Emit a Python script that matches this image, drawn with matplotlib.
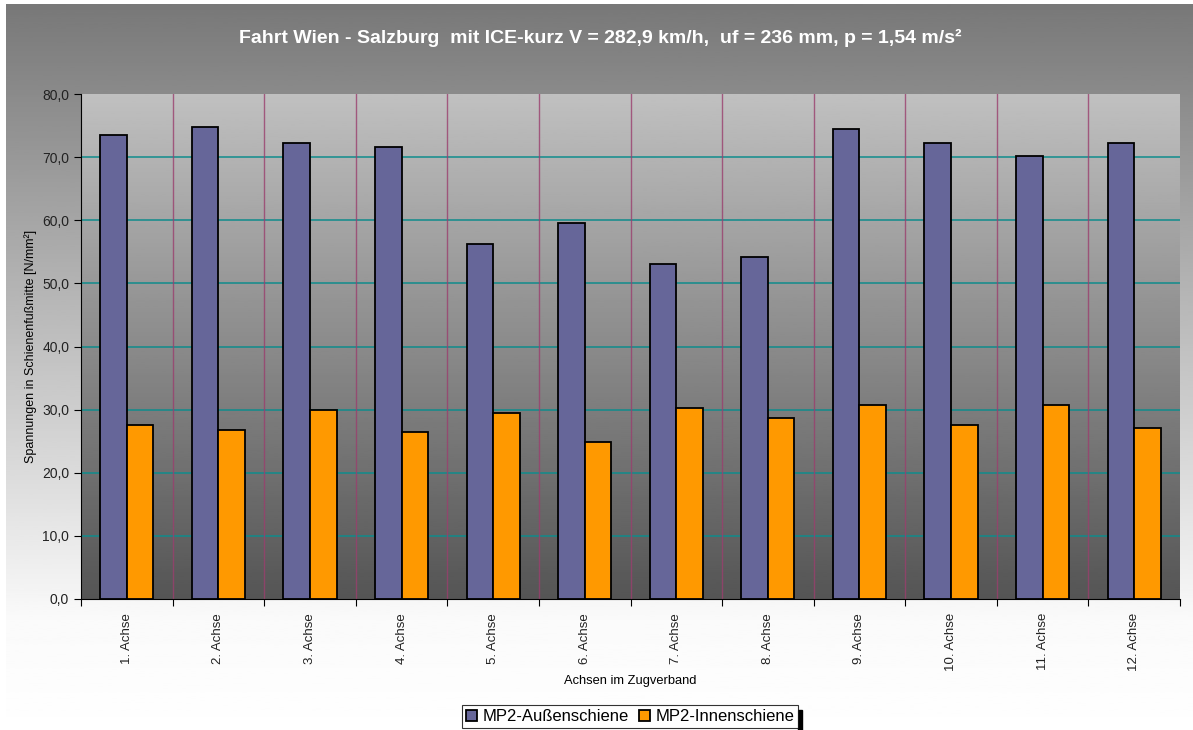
import numpy as np
import matplotlib
matplotlib.use("Agg")
import matplotlib.pyplot as plt
from matplotlib.patches import Rectangle

plt.rcParams['font.family'] = ['Liberation Sans', 'DejaVu Sans']

categories = [f"{i}. Achse" for i in range(1, 13)]
aussen = [73.5, 74.8, 72.2, 71.6, 56.3, 59.5, 53.0, 54.1, 74.4, 72.2, 70.1, 72.2]
innen = [27.5, 26.7, 30.0, 26.5, 29.5, 24.9, 30.3, 28.7, 30.8, 27.6, 30.8, 27.1]
series_names = ["MP2-Außenschiene", "MP2-Innenschiene"]
title = "Fahrt Wien - Salzburg  mit ICE-kurz V = 282,9 km/h,  uf = 236 mm, p = 1,54 m/s²"

W, H = 1193, 730
fig = plt.figure(figsize=(W / 100, H / 100), dpi=100)
fig.patch.set_facecolor("white")

# chart-area background: grey at top fading to white
bg = fig.add_axes([6 / W, 0, 1 - 6 / W, 1 - 4 / H], zorder=-2)
rows = np.linspace(0, 1, 300)
ramp = np.clip(120 + (250 - 120) * rows / (616 / 726), 0, 255)
ramp = np.where(rows > 616 / 726, np.clip(250 + (rows - 616 / 726) * 30, 0, 255), ramp) / 255
bg.imshow(ramp[:, None], cmap="gray", vmin=0, vmax=1, aspect="auto", extent=[0, 1, 1, 0])
bg.set_axis_off()

ax = fig.add_axes([81 / W, 1 - 599 / H, 1099 / W, 505 / H])
ax.set_facecolor("none")
x = np.arange(len(categories))

# plot area gradient (light top, dark bottom)
grad = np.linspace(0xc0, 0x55, 256)[:, None] / 255
ax.imshow(grad, cmap="gray", vmin=0, vmax=1, aspect="auto",
          extent=[-0.5, len(categories) - 0.5, 0, 80], zorder=0)

for v in range(10, 80, 10):
    ax.axhline(v, color="#0f8c8c", lw=1.1, zorder=1)
for b in np.arange(0.5, len(categories) - 0.5, 1):
    ax.axvline(b, color="#9a3f6e", lw=1.0, alpha=0.8, zorder=1)

bw = 0.29
ax.bar(x - bw / 2, aussen, bw, color="#666699", edgecolor="black", lw=1.3, zorder=3,
       label=series_names[0])
ax.bar(x + bw / 2, innen, bw, color="#ff9900", edgecolor="black", lw=1.3, zorder=3,
       label=series_names[1])

ax.set_xlim(-0.5, len(categories) - 0.5)
ax.set_ylim(0, 80)
ax.set_yticks(range(0, 81, 10))
ax.set_yticklabels([f"{v},0" for v in range(0, 81, 10)], fontsize=10, color="#222222")
ax.set_xticks(np.arange(-0.5, len(categories), 1))
ax.set_xticklabels([])
ax.set_xticks(x, minor=True)
ax.set_xticklabels(categories, minor=True, rotation=90, fontsize=9.5, color="#222222")
ax.tick_params(axis="x", which="major", length=5, direction="out")
ax.tick_params(axis="x", which="minor", length=0, pad=10)
ax.tick_params(axis="y", length=5, direction="out")
for s in ["top", "right"]:
    ax.spines[s].set_visible(False)
ax.spines["left"].set_color("black")
ax.spines["bottom"].set_color("black")

ax.set_ylabel("Spannungen in Schienenfußmitte [N/mm²]", fontsize=9, labelpad=4)
fig.text(0.5 * (81 + 1180) / W, 1 - 681 / H, "Achsen im Zugverband", ha="center",
         va="center", fontsize=9.3)
fig.text(600 / W, 1 - 38 / H, title, ha="center", va="center", fontsize=14,
         fontweight="bold", color="white")

# legend with shadow on the right
leg = fig.legend(loc="upper center", bbox_to_anchor=(630 / W, 1 - 705 / H), ncol=2,
                 fontsize=12, frameon=True, fancybox=False, edgecolor="black",
                 handlelength=0.7, handleheight=0.7, handletextpad=0.3,
                 columnspacing=0.6, borderpad=0.25, borderaxespad=0)
leg.get_frame().set_linewidth(0.8)
leg.set_zorder(5)
fig.canvas.draw()
lb = leg.get_window_extent()
fig.patches.append(Rectangle((lb.x1 / W, 0), 4 / W, (lb.y1 - 5) / H,
                             transform=fig.transFigure, color="black", zorder=4))

fig.savefig("out.png", dpi=100)
